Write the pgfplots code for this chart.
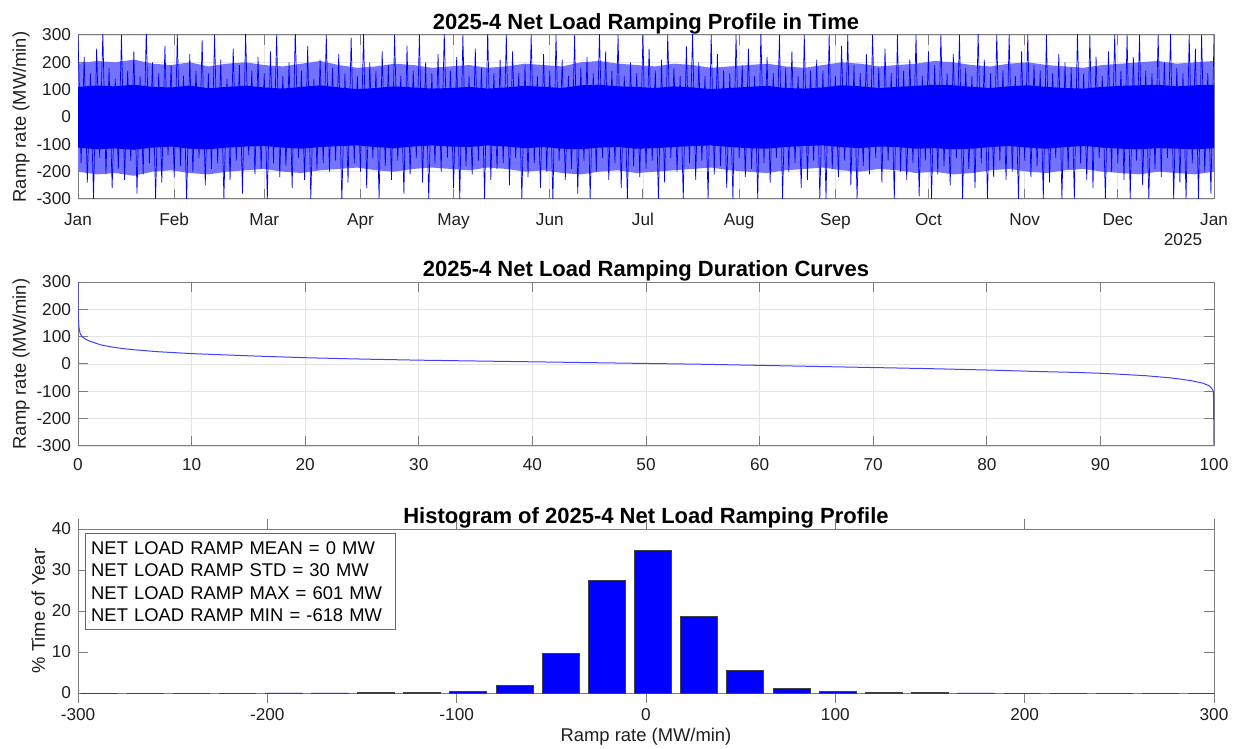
\documentclass[border=0pt]{standalone}
\usepackage{fontspec}
\setmainfont{Liberation Sans}
\usepackage{pgfplots}
\usepackage{pgfplotstable}
\pgfplotsset{compat=1.18}

\definecolor{axgray}{RGB}{125,125,125}
\definecolor{gridgray}{RGB}{228,228,228}

% ramp rate, one value per day (MW/min), alternating up/down swings
\pgfplotstableread[row sep=\\]{
y\\
300\\ -170\\ 220\\ -240\\ 160\\ -300\\ 250\\ -150\\ 310\\ -210\\ 180\\ -260\\ 140\\ -190\\ 300\\ -230\\ 170\\ -160\\ 240\\ -280\\
150\\ -210\\ 320\\ -170\\ 200\\ -300\\ 160\\ -240\\ 260\\ -140\\ 190\\ -220\\ 300\\ -180\\ 150\\ -310\\ 230\\ -200\\ 170\\ -150\\
280\\ -250\\ 160\\ -190\\ 300\\ -170\\ 210\\ -300\\ 140\\ -230\\ 250\\ -160\\ 190\\ -280\\ 310\\ -140\\ 170\\ -210\\ 220\\ -190\\
160\\ -300\\ 240\\ -170\\ 300\\ -220\\ 150\\ -180\\ 200\\ -260\\ 320\\ -150\\ 170\\ -230\\ 260\\ -300\\ 140\\ -190\\ 210\\ -170\\
300\\ -200\\ 180\\ -160\\ 230\\ -310\\ 160\\ -240\\ 290\\ -170\\ 150\\ -200\\ 310\\ -260\\ 200\\ -150\\ 170\\ -300\\ 240\\ -180\\
190\\ -230\\ 300\\ -160\\ 150\\ -280\\ 260\\ -210\\ 170\\ -150\\ 300\\ -240\\ 200\\ -300\\ 160\\ -170\\ 230\\ -200\\ 310\\ -150\\
170\\ -260\\ 220\\ -300\\ 300\\ -180\\ 150\\ -210\\ 250\\ -160\\ 180\\ -300\\ 320\\ -230\\ 160\\ -190\\ 210\\ -170\\ 300\\ -250\\
240\\ -150\\ 160\\ -300\\ 190\\ -220\\ 300\\ -170\\ 150\\ -260\\ 230\\ -200\\ 170\\ -310\\ 300\\ -160\\ 210\\ -230\\ 150\\ -190\\
300\\ -280\\ 180\\ -160\\ 220\\ -300\\ 160\\ -200\\ 310\\ -150\\ 240\\ -230\\ 170\\ -170\\ 300\\ -260\\ 150\\ -300\\ 200\\ -180\\
160\\ -220\\ 300\\ -190\\ 250\\ -160\\ 170\\ -300\\ 210\\ -240\\ 300\\ -150\\ 180\\ -200\\ 150\\ -300\\ 260\\ -170\\ 310\\ -230\\
200\\ -160\\ 150\\ -300\\ 300\\ -210\\ 230\\ -180\\ 170\\ -260\\ 160\\ -300\\ 300\\ -150\\ 190\\ -220\\ 250\\ -190\\ 150\\ -300\\
310\\ -170\\ 220\\ -240\\ 160\\ -150\\ 300\\ -300\\ 180\\ -200\\ 240\\ -170\\ 150\\ -260\\ 300\\ -230\\ 170\\ -160\\ 210\\ -300\\
170\\ -300\\ 300\\ -190\\ 150\\ -220\\ 260\\ -160\\ 300\\ -250\\ 190\\ -300\\ 160\\ -180\\ 230\\ -210\\ 300\\ -150\\ 180\\ -240\\
250\\ -160\\ 160\\ -300\\ 300\\ -200\\ 170\\ -230\\ 210\\ -170\\ 300\\ -290\\ 150\\ -160\\ 240\\ -300\\ 190\\ -210\\ 300\\ -180\\
160\\ -250\\ 230\\ -150\\ 300\\ -300\\ 180\\ -190\\ 150\\ -260\\ 310\\ -170\\ 210\\ -300\\ 160\\ -220\\ 300\\ -160\\ 170\\ -230\\
300\\ -200\\ 150\\ -300\\ 240\\ -160\\ 300\\ -220\\ 190\\ -180\\ 170\\ -300\\ 300\\ -240\\ 160\\ -150\\ 230\\ -300\\ 200\\ -190\\
180\\ -300\\ 310\\ -170\\ 160\\ -230\\ 300\\ -260\\ 220\\ -150\\ 150\\ -300\\ 240\\ -200\\ 300\\ -170\\ 170\\ -230\\ 300\\ -300\\
220\\ -160\\ 300\\ -250\\ 170\\ -300\\ 160\\ -190\\ 300\\ -220\\ 200\\ -150\\ 310\\ -300\\ 180\\ -240\\ 160\\ -300\\ 300\\ -170\\
250\\ -300\\ 300\\ -200\\ 160\\ -280\\ 300\\
}\ramptime

% envelopes of the dense band: fringe (fu, fl) and solid core (cu, cl)
\pgfplotstableread{
x fu fl cu cl
0 195 -200 110 -112
6 205 -210 115 -118
12 200 -205 112 -115
18 210 -215 118 -120
24 195 -200 110 -112
30 190 -195 108 -108
36 200 -205 115 -116
42 185 -210 105 -118
48 195 -200 110 -112
54 200 -195 114 -108
60 190 -190 108 -106
66 185 -200 104 -112
72 195 -205 110 -116
78 205 -195 116 -110
84 190 -190 108 -106
90 180 -185 102 -104
96 185 -195 106 -110
102 195 -200 112 -114
108 190 -190 108 -108
114 180 -185 104 -104
120 185 -190 106 -108
126 190 -195 110 -110
132 180 -185 104 -104
138 185 -190 108 -108
144 195 -200 114 -114
150 190 -195 110 -110
156 185 -205 106 -116
162 200 -210 116 -118
168 205 -200 118 -112
174 195 -195 112 -110
180 190 -205 110 -116
186 185 -200 106 -114
192 195 -195 112 -110
198 190 -190 108 -106
204 180 -185 102 -104
210 185 -195 106 -110
216 190 -200 110 -114
222 195 -205 114 -116
228 185 -195 106 -110
234 180 -190 104 -106
240 190 -185 108 -104
246 200 -195 116 -110
252 195 -200 112 -114
258 185 -190 106 -108
264 190 -195 110 -110
270 195 -205 114 -116
276 205 -200 118 -114
282 200 -210 116 -118
288 190 -205 110 -116
294 185 -195 106 -110
300 195 -190 112 -106
306 200 -200 116 -112
312 190 -205 110 -116
318 185 -195 106 -110
324 180 -190 104 -106
330 190 -200 110 -112
336 195 -205 114 -116
342 200 -210 116 -118
348 205 -200 118 -114
354 195 -205 112 -116
360 200 -210 116 -118
366 205 -200 118 -114
}\envelope

\pgfplotstableread{
pct ramp
0 300
0.01 220
0.03 170
0.08 135
0.2 110
0.4 98
0.7 90
1 84
1.5 77
2 70
3 62
4 56
5 52
7 45
10 38
15 30
20 23
25 18
30 14
35 11
40 8
45 5
50 2
55 -1
60 -5
65 -9
70 -13
75 -17
80 -22
85 -28
88 -31
90 -34
92 -38
94 -43
96 -50
97 -55
98 -61
99 -70
99.5 -78
99.7 -85
99.85 -92
99.95 -100
100 -300
}\duration

\pgfplotstableread{
center pct
-288.87 0
-264.49 0
-240.11 0
-215.73 0
-191.35 0.01
-166.97 0.02
-142.59 0.05
-118.21 0.1
-93.83 0.35
-69.45 1.95
-45.07 9.7
-20.69 27.4
3.69 34.8
28.07 18.7
52.45 5.5
76.83 1.15
101.21 0.3
125.59 0.08
149.97 0.03
174.35 0.01
198.73 0
223.11 0
247.49 0
271.87 0
296.25 0
}\hist

\pgfplotsset{
  mlab/.style={
    scale only axis, width=568pt, height=82pt,
    axis line style={axgray, line width=0.5pt},
    every tick/.style={axgray, line width=0.5pt},
    major tick length=5pt,
    tick align=inside,
    xtick pos=both, ytick pos=both,
    major grid style={gridgray, line width=0.4pt},
    tick label style={font=\fontsize{8.6}{10}\selectfont, text=black!88,
      /pgf/number format/assume math mode=true},
    label style={font=\fontsize{9.2}{11}\selectfont, text=black!88},
    title style={font=\fontsize{11}{13}\selectfont\bfseries, yshift=-9pt},
    ylabel style={yshift=-3.5pt},
  }
}

\begin{document}
\begin{tikzpicture}
\path[use as bounding box] (0,0) rectangle (617pt,-374pt);

% top: ramping profile in time
\begin{axis}[mlab,
  at={(39pt,-17.5pt)}, anchor=north west,
  title={2025-4 Net Load Ramping Profile in Time},
  ylabel={Ramp rate (MW/min)},
  xmin=0, xmax=366, ymin=-300, ymax=300,
  ytick={-300,-200,...,300},
  xtick={0,31,60,91,121,152,182,213,244,274,305,335,366},
  xticklabels={Jan,Feb,Mar,Apr,May,Jun,Jul,Aug,Sep,Oct,Nov,Dec,Jan},
  xticklabel style={yshift=-3pt, text height=6.6pt},
  grid=major,
  clip mode=individual,
]
\addplot[fill=blue!55, draw=none] table[x=x, y=fu] {\envelope} \closedcycle;
\addplot[fill=blue!55, draw=none] table[x=x, y=fl] {\envelope} \closedcycle;
\addplot[fill=blue, draw=none] table[x=x, y=cu] {\envelope} \closedcycle;
\addplot[fill=blue, draw=none] table[x=x, y=cl] {\envelope} \closedcycle;
\addplot[blue, line width=0.35pt] table[x expr=\coordindex, y=y] {\ramptime};
\node[font=\fontsize{8.6}{10}\selectfont, text=black!88, anchor=center]
  at (rel axis cs:1,0) [xshift=-15.5pt, yshift=-20.5pt] {2025};
\end{axis}

% middle: duration curve
\begin{axis}[mlab,
  at={(39pt,-141pt)}, anchor=north west,
  title={2025-4 Net Load Ramping Duration Curves},
  ylabel={Ramp rate (MW/min)},
  xmin=0, xmax=100, ymin=-300, ymax=300,
  xtick={0,10,...,100},
  ytick={-300,-200,...,300},
  xticklabel style={yshift=-2.5pt},
  grid=major,
]
\addplot[blue!75, line width=0.5pt] table[x=pct, y=ramp] {\duration};
\end{axis}

% bottom: histogram
\begin{axis}[mlab,
  at={(39pt,-264.5pt)}, anchor=north west,
  title={Histogram of 2025-4 Net Load Ramping Profile},
  ylabel={\% Time of Year},
  xlabel={Ramp rate (MW/min)},
  xlabel style={yshift=3pt},
  xticklabel style={yshift=1pt},
  xmin=-300, xmax=300, ymin=0, ymax=40,
  xtick={-300,-200,...,300},
  ytick={0,10,...,40},
  ybar, bar width=19.5,
]
\addplot[fill=blue, draw=black!75, line width=0.4pt] table[x=center, y=pct] {\hist};
\node[anchor=north west, draw=black!60, fill=white, align=left, text width=149pt,
  font=\fontsize{9.2}{11.2}\selectfont, inner xsep=3pt, inner ysep=4pt]
  at (rel axis cs:0.006,0.975) {NET LOAD RAMP MEAN = 0 MW\\NET LOAD RAMP STD = 30 MW\\NET LOAD RAMP MAX = 601 MW\\NET LOAD RAMP MIN = -618 MW};
\end{axis}
\end{tikzpicture}
\end{document}
